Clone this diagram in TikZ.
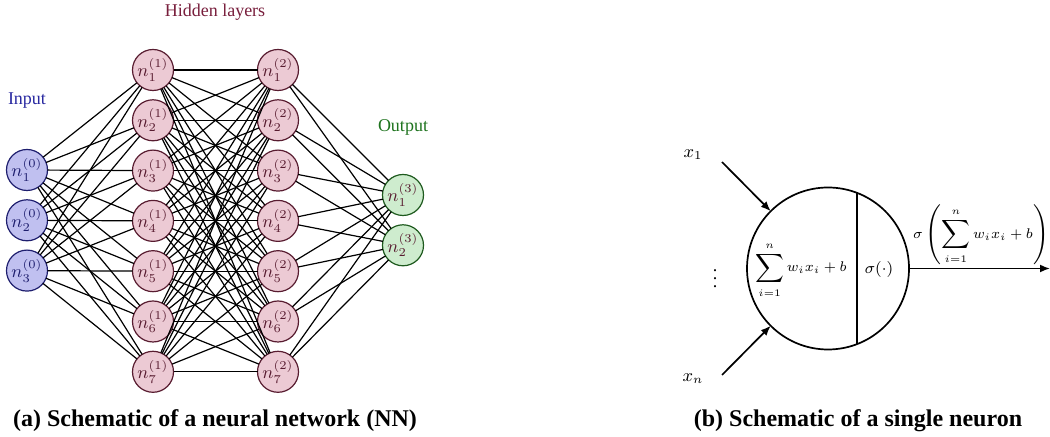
\documentclass[tikz,border=0pt]{standalone}
\usepackage{fontspec}
\setmainfont{Liberation Serif}
\setmathrm{Liberation Serif}
\usetikzlibrary{arrows.meta}

\definecolor{inFill}{RGB}{192,192,240}
\definecolor{inLine}{RGB}{30,30,110}
\definecolor{hidFill}{RGB}{236,202,212}
\definecolor{hidLine}{RGB}{88,28,48}
\definecolor{outFill}{RGB}{206,236,206}
\definecolor{outLine}{RGB}{30,90,30}
\definecolor{inText}{RGB}{40,40,160}
\definecolor{hidText}{RGB}{120,30,60}
\definecolor{outText}{RGB}{30,115,30}

\tikzset{
  unit/.style={circle, minimum size=20.5pt, inner sep=0pt, outer sep=0pt, line width=0.6pt},
  inp/.style={unit, draw=inLine, fill=inFill, text=inLine},
  hid/.style={unit, draw=hidLine, fill=hidFill, text=hidLine},
  outp/.style={unit, draw=outLine, fill=outFill, text=hidLine},
  link/.style={line width=0.6pt, black},
  caption/.style={font=\fontsize{12}{14}\selectfont\bfseries},
  heavy/.style={line width=0.85pt},
  feed/.style={heavy, -{Latex[length=5pt,width=4pt]}},
  formula/.style={inner sep=1pt, font=\fontsize{7.2}{9}\selectfont},
}

\begin{document}
\begin{tikzpicture}[x=0.5pt, y=-0.5pt, font=\fontsize{9}{11}\selectfont]
\useasboundingbox (0,0) rectangle (1050,437);

% ---- network layers ----
\foreach \i in {1,2,3}
  \node[inp] (I\i) at (27, {170+50.3*(\i-1)}) {$n_{\i}^{(0)}$};
\foreach \i in {1,...,7}
  \node[hid] (A\i) at (153, {70+50.3*(\i-1)}) {$n_{\i}^{(1)}$};
\foreach \i in {1,...,7}
  \node[hid] (B\i) at (278, {70+50.3*(\i-1)}) {$n_{\i}^{(2)}$};
\foreach \i in {1,2}
  \node[outp] (O\i) at (403, {195+50.3*(\i-1)}) {$n_{\i}^{(3)}$};

% ---- fully connected links ----
\foreach \i in {1,2,3}
  \foreach \j in {1,...,7}
    \draw[link] (I\i) -- (A\j);
\foreach \i in {1,...,7}
  \foreach \j in {1,...,7}
    \draw[link] (A\i) -- (B\j);
\foreach \i in {1,...,7}
  \foreach \j in {1,2}
    \draw[link] (B\i) -- (O\j);

% ---- layer labels ----
\node[text=inText] (lin) at (27,101) {Input};
\node[text=hidText] (lhid) at (215,12) {Hidden layers};
\node[text=outText] (lout) at (403,127) {Output};

\node[caption] (capa) at (215,421) {(a) Schematic of a neural network (NN)};

% ---- single neuron ----
\node[circle, draw, heavy, minimum size=81pt, inner sep=0pt, outer sep=0pt] (neuron) at (828,268.5) {};
\draw[heavy] (neuron.69) -- (neuron.-69);
\node[formula] (sum) at (801,270) {$\displaystyle\sum_{i=1}^{n} w_i x_i + b$};
\node[formula, font=\fontsize{7.8}{9}\selectfont] (act) at (879,270) {$\sigma(\cdot)$};

\coordinate (x1s) at (722,162);
\coordinate (xns) at (722,375);
\coordinate (yend) at (1050,268.5);
\node (x1) at (693,155) {$x_1$};
\node (xn) at (693,379) {$x_n$};
\node[inner sep=0pt] (dots) at (715,273) {$\vdots$};

\draw[feed] (x1s) -- (neuron.135);
\draw[feed] (xns) -- (neuron.-135);
\draw[feed] (neuron.east) -- (yend);
\node[formula] (yl) at (981,235) {$\displaystyle\sigma\left(\sum_{i=1}^{n} w_i x_i + b\right)$};

\node[caption] (capb) at (858,421) {(b) Schematic of a single neuron};
\end{tikzpicture}
\end{document}
